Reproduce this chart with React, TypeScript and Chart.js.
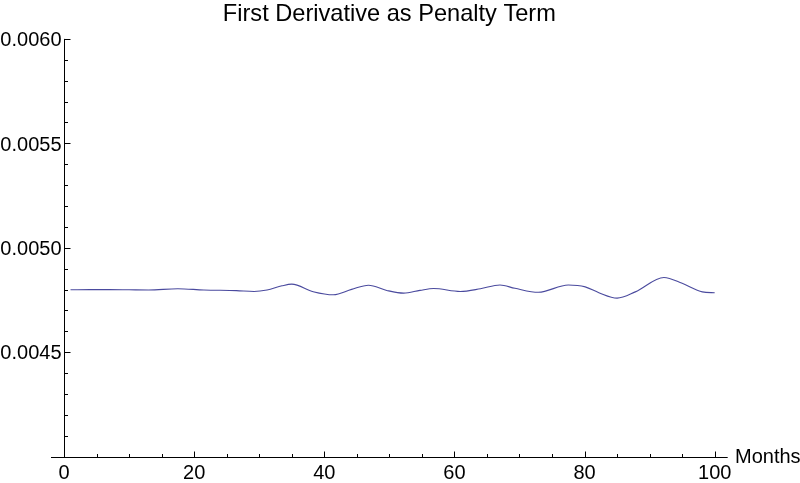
import { useEffect, useRef } from "react";
import { Chart, registerables } from "chart.js";

Chart.register(...registerables);

const titleText = "First Derivative as Penalty Term";
const xAxisLabel = "Months";

const months = [
  1, 4, 7, 10, 13, 17.5, 21.5, 26.5, 29.2, 31.2, 33.5, 35, 38.3, 41.4, 44.2, 46.8,
  49.6, 52.2, 54.7, 56.8, 60.9, 64, 67, 69.3, 72.9, 77.5, 80.1, 82.2, 85, 87.8,
  92.2, 95, 98.1, 100,
];
const values = [
  0.004799, 0.0048, 0.0048, 0.004799, 0.004798, 0.004804, 0.004798, 0.004795,
  0.004791, 0.004798, 0.004818, 0.004826, 0.00479, 0.004775, 0.004801, 0.004821,
  0.004796, 0.004783, 0.004796, 0.004805, 0.004791, 0.004804, 0.004822, 0.004806,
  0.004787, 0.004822, 0.004813, 0.004785, 0.004759, 0.004789, 0.004858, 0.00483,
  0.004789, 0.004785,
];

const xMajorTicks = [0, 20, 40, 60, 80, 100];
const xTickLabels = ["0", "20", "40", "60", "80", "100"];
const xMinorStep = 5;
const yMajorTicks = [0.0045, 0.005, 0.0055, 0.006];
const yTickLabels = ["0.0045", "0.0050", "0.0055", "0.0060"];
const yMinorStep = 0.0001;

const X_MIN = -2;
const X_MAX = 102;
const Y_MIN = 0.004;
const Y_MAX = 0.006;

const FONT = '"Liberation Sans", Arial, sans-serif';

const axesPlugin = {
  id: "mmaAxes",
  afterDraw(chart: any) {
    const { ctx, chartArea } = chart;
    const xs = chart.scales.x;
    const ys = chart.scales.y;
    const x0 = Math.round(xs.getPixelForValue(0)) + 0.5;
    const yb = Math.round(ys.getPixelForValue(Y_MIN)) + 0.5;
    const yTop = ys.getPixelForValue(Y_MAX);
    ctx.save();
    ctx.strokeStyle = "#000";
    ctx.lineWidth = 1;
    ctx.beginPath();
    ctx.moveTo(chartArea.left, yb);
    ctx.lineTo(chartArea.right, yb);
    ctx.moveTo(x0, yb);
    ctx.lineTo(x0, yTop);
    for (let v = 0; v <= 100 + 1e-9; v += xMinorStep) {
      const px = Math.round(xs.getPixelForValue(v)) + 0.5;
      const major = xMajorTicks.includes(v);
      ctx.moveTo(px, yb);
      ctx.lineTo(px, yb - (major ? 6 : 3.5));
    }
    for (let i = 0; i <= 20; i++) {
      const v = Y_MIN + i * yMinorStep;
      const py = Math.round(ys.getPixelForValue(v)) + 0.5;
      const major = yMajorTicks.some((t) => Math.abs(t - v) < 1e-9);
      ctx.moveTo(x0, py);
      ctx.lineTo(x0 + (major ? 6 : 3.5), py);
    }
    ctx.stroke();

    ctx.fillStyle = "#000";
    ctx.font = `20px ${FONT}`;
    ctx.textBaseline = "alphabetic";
    ctx.textAlign = "center";
    xMajorTicks.forEach((v, i) => {
      ctx.fillText(xTickLabels[i], xs.getPixelForValue(v), yb + 21);
    });
    ctx.textAlign = "right";
    yMajorTicks.forEach((v, i) => {
      ctx.fillText(yTickLabels[i], x0 - 3, ys.getPixelForValue(v) + 7.2);
    });
    ctx.textAlign = "left";
    ctx.fillText(xAxisLabel, 735, 462.7);

    ctx.font = `23.6px ${FONT}`;
    ctx.textAlign = "center";
    ctx.fillText(titleText, (chartArea.left + chartArea.right) / 2, 20.9);
    ctx.restore();
  },
};

export default function App() {
  const ref = useRef<HTMLCanvasElement | null>(null);
  useEffect(() => {
    document.body.style.margin = "0";
    if (!ref.current) return;
    const chart = new Chart(ref.current, {
      type: "line",
      data: {
        datasets: [
          {
            data: months.map((m, i) => ({ x: m, y: values[i] })),
            borderColor: "#4a4a9e",
            borderWidth: 1.1,
            pointRadius: 0,
            fill: false,
            cubicInterpolationMode: "monotone",
          },
        ],
      },
      options: {
        animation: false,
        responsive: false,
        layout: { padding: { left: 51, right: 72.3, top: 38.9, bottom: 26.3 } },
        plugins: { legend: { display: false }, title: { display: false }, tooltip: { enabled: false } },
        scales: {
          x: { type: "linear", min: X_MIN, max: X_MAX, display: false },
          y: { type: "linear", min: Y_MIN, max: Y_MAX, display: false },
        },
      },
      plugins: [axesPlugin],
    });
    return () => chart.destroy();
  }, []);
  return (
    <div style={{ width: 800, height: 483, background: "#fff" }}>
      <canvas ref={ref} width={800} height={483} style={{ display: "block" }} />
    </div>
  );
}
